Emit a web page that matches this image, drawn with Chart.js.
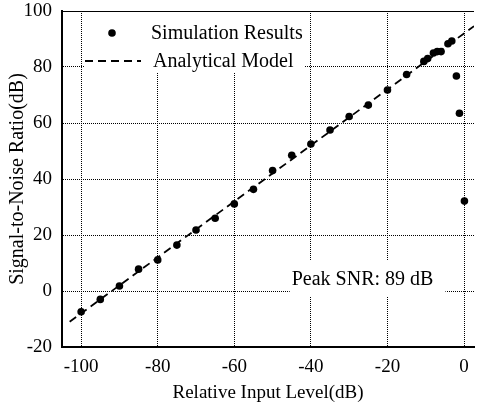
<!DOCTYPE html>
<html>
<head>
<meta charset="utf-8">
<script src="https://cdn.jsdelivr.net/npm/chart.js@4"></script>
<style>
  body { margin: 0; background: #fff; }
  #wrap { width: 478px; height: 404px; }
</style>
</head>
<body>
<div id="wrap"><canvas id="snr"></canvas></div>
<script>
// simulation points (x = relative input level dB, y = SNR dB)
const simX = [-100, -95, -90, -85, -80, -75, -70, -65, -60, -55, -50, -45, -40, -35, -30, -25, -20, -15,
              -10.5, -9.5, -8, -7, -6, -4.2, -3.2, -2, -1.2, 0.1];
const simY = [-7.4, -3, 1.8, 7.8, 11.1, 16.4, 21.8, 26, 31.1, 36.3, 43, 48.5, 52.5, 57.5, 62.3, 66.4, 71.8, 77.3,
              82, 83, 85, 85.5, 85.5, 88.3, 89.3, 76.8, 63.5, 32.1];
// analytical model line end points
const modelX = [-103, 2.6];
const modelY = [-11, 94.6];
const xTicks = [-100, -80, -60, -40, -20, 0];
const yTicks = [-20, 0, 20, 40, 60, 80, 100];
const peakLabel = { x: -45, y: 4.3, text: 'Peak SNR: 89 dB' };

const serif = 'Liberation Serif';

const paperLook = {
  id: 'paperLook',
  beforeDatasetsDraw(chart) {
    const ctx = chart.ctx;
    const a = chart.chartArea;
    const sx = chart.scales.x, sy = chart.scales.y;
    ctx.save();
    // thin top frame
    ctx.strokeStyle = '#000';
    ctx.lineWidth = 1;
    ctx.beginPath();
    ctx.moveTo(a.left, a.top + 0.5);
    ctx.lineTo(a.right, a.top + 0.5);
    ctx.stroke();

    // legend
    const lx = a.left + 23, ly = a.top + 1;
    ctx.fillStyle = '#fff';
    ctx.fillRect(lx, ly, 220, 61);
    const sim = chart.data.datasets[0], mod = chart.data.datasets[1];
    ctx.fillStyle = sim.backgroundColor;
    ctx.beginPath();
    ctx.arc(lx + 27, ly + 21, sim.pointRadius, 0, Math.PI * 2);
    ctx.fill();
    ctx.strokeStyle = mod.borderColor;
    ctx.lineWidth = mod.borderWidth;
    ctx.setLineDash(mod.borderDash);
    ctx.beginPath();
    ctx.moveTo(lx, ly + 49);
    ctx.lineTo(lx + 56, ly + 49);
    ctx.stroke();
    ctx.setLineDash([]);
    ctx.fillStyle = '#000';
    ctx.font = '20px "' + serif + '"';
    ctx.textBaseline = 'middle';
    ctx.textAlign = 'left';
    ctx.fillText(sim.label, lx + 66, ly + 22);
    ctx.fillText(mod.label, lx + 68, ly + 50);

    // peak SNR note
    const px = sx.getPixelForValue(peakLabel.x), py = sy.getPixelForValue(peakLabel.y);
    const w = ctx.measureText(peakLabel.text).width;
    ctx.fillStyle = '#fff';
    ctx.fillRect(px - 2, py - 19, w + 14, 37);
    ctx.fillStyle = '#000';
    ctx.fillText(peakLabel.text, px, py + 1);
    ctx.restore();
  }
};

const ctx = document.getElementById('snr').getContext('2d');
const chart = new Chart(ctx, {
  type: 'scatter',
  data: {
    datasets: [
      {
        label: 'Simulation Results',
        data: simX.map((v, i) => ({x: v, y: simY[i]})),
        backgroundColor: '#000',
        borderColor: '#000',
        pointRadius: 3.8,
        pointBorderWidth: 0,
        showLine: false
      },
      {
        label: 'Analytical Model',
        data: modelX.map((v, i) => ({x: v, y: modelY[i]})),
        showLine: true,
        borderColor: '#000',
        borderWidth: 1.8,
        borderDash: [8, 5],
        pointRadius: 0,
        fill: false
      }
    ]
  },
  options: {
    responsive: true,
    maintainAspectRatio: false,
    animation: false,
    events: [],
    layout: { padding: { top: 11, right: 0, left: 0, bottom: 0 } },
    plugins: { legend: { display: false }, tooltip: { enabled: false } },
    scales: {
      x: {
        type: 'linear',
        min: -105,
        max: 2.6,
        afterBuildTicks: s => { s.ticks = xTicks.map(v => ({value: v})); },
        afterFit: s => { s.height = 57; s.paddingLeft = 0; s.paddingRight = 0; },
        grid: { color: '#000', lineWidth: 1, drawTicks: false },
        border: { color: '#000', width: 2, dash: [1, 1] },
        ticks: { color: '#000', padding: 9, maxRotation: 0, font: { family: serif, size: 19 } },
        title: { display: true, text: 'Relative Input Level(dB)', color: '#000',
                 font: { family: serif, size: 19 }, padding: { top: 0, bottom: 0 } }
      },
      y: {
        type: 'linear',
        min: -20,
        max: 100,
        afterBuildTicks: s => { s.ticks = yTicks.map(v => ({value: v})); },
        afterFit: s => { s.width = 62; s.paddingTop = 0; s.paddingBottom = 0; },
        grid: { color: '#000', lineWidth: 1, drawTicks: false },
        border: { color: '#000', width: 2, dash: [1, 1] },
        ticks: { color: '#000', padding: 10, font: { family: serif, size: 19 } },
        title: { display: true, text: 'Signal-to-Noise Ratio(dB)', color: '#000',
                 font: { family: serif, size: 20 }, padding: { top: 6, bottom: 0 } }
      }
    }
  },
  plugins: [paperLook]
});
</script>
</body>
</html>
